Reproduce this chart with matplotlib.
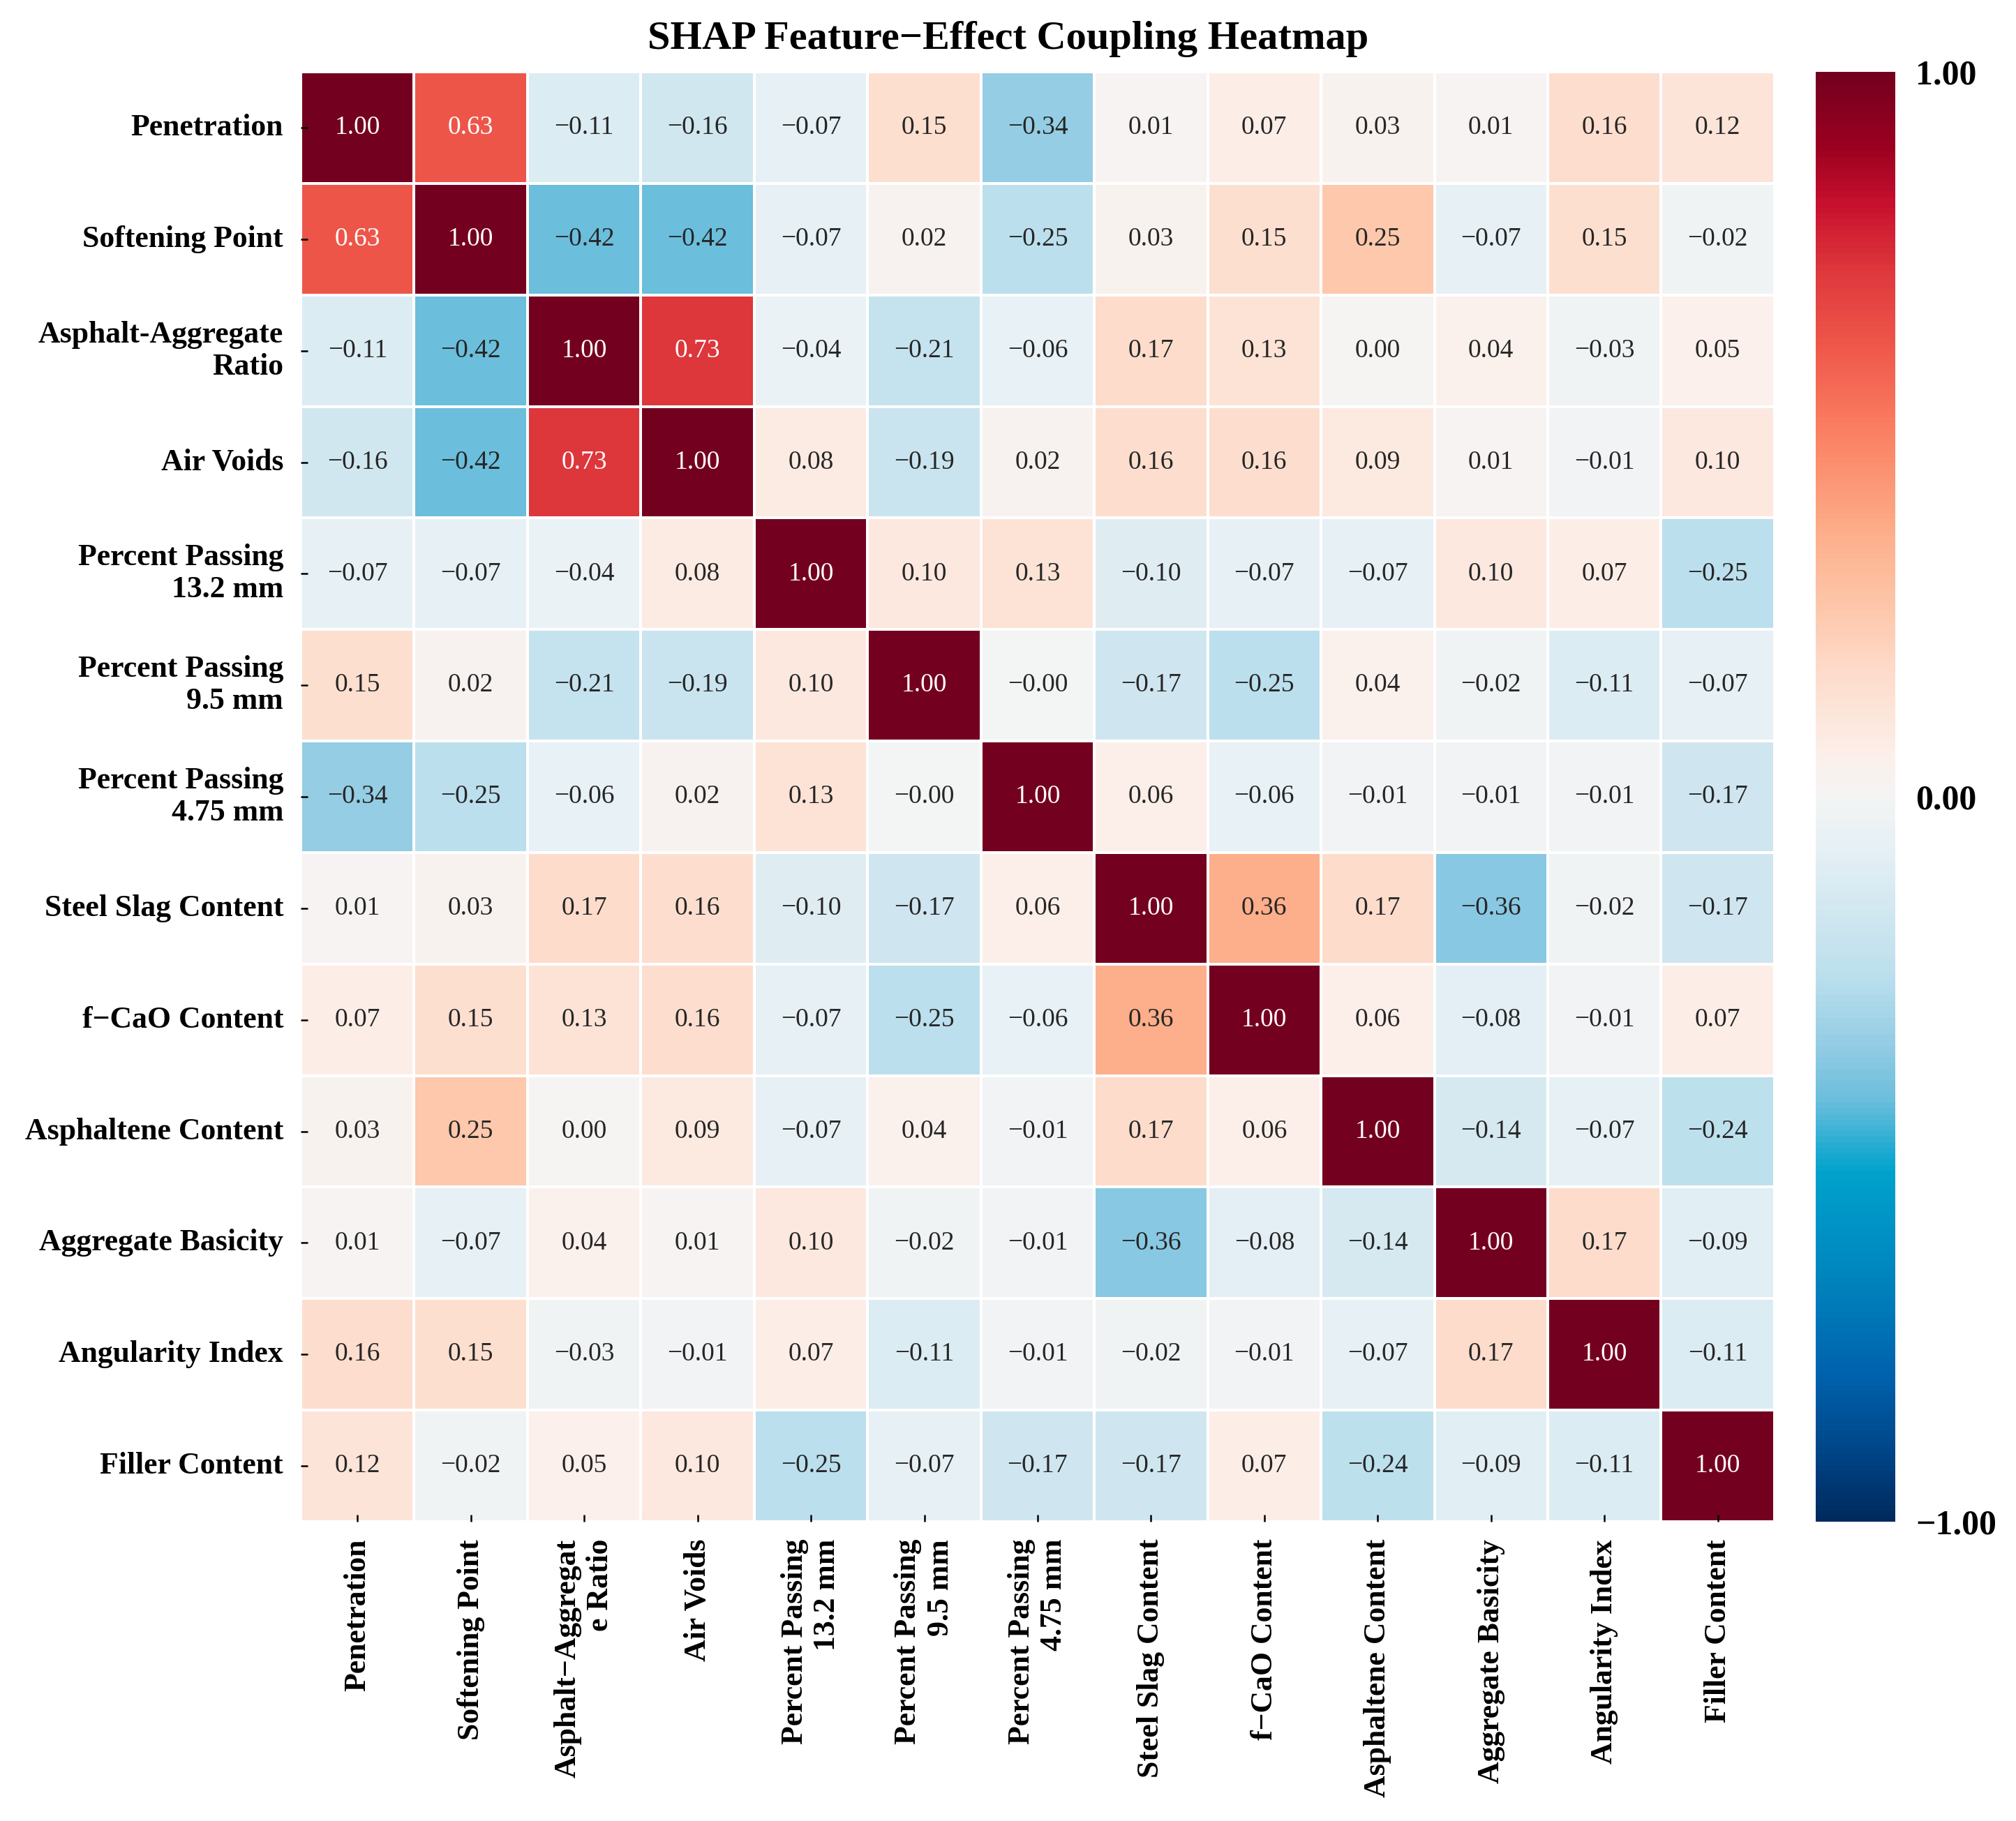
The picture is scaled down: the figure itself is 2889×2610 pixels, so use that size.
import numpy as np
import seaborn as sns
import matplotlib.pyplot as plt
from matplotlib.colors import LinearSegmentedColormap

plt.rcParams['font.family'] = ['Liberation Serif', 'DejaVu Serif']
plt.rcParams['axes.unicode_minus'] = True

# feature names (y axis and x axis wrap differently in the original)
y_labels = ['Penetration', 'Softening Point', 'Asphalt-Aggregate\nRatio', 'Air Voids',
            'Percent Passing\n13.2 mm', 'Percent Passing\n9.5 mm', 'Percent Passing\n4.75 mm',
            'Steel Slag Content', 'f\u2212CaO Content', 'Asphaltene Content',
            'Aggregate Basicity', 'Angularity Index', 'Filler Content']
x_labels = ['Penetration', 'Softening Point', 'Asphalt\u2212Aggregat\ne Ratio', 'Air Voids',
            'Percent Passing\n13.2 mm', 'Percent Passing\n9.5 mm', 'Percent Passing\n4.75 mm',
            'Steel Slag Content', 'f\u2212CaO Content', 'Asphaltene Content',
            'Aggregate Basicity', 'Angularity Index', 'Filler Content']

row_penetration = [1.00, 0.63, -0.11, -0.16, -0.07, 0.15, -0.34, 0.01, 0.07, 0.03, 0.01, 0.16, 0.12]
row_softening = [0.63, 1.00, -0.42, -0.42, -0.07, 0.02, -0.25, 0.03, 0.15, 0.25, -0.07, 0.15, -0.02]
row_aa_ratio = [-0.11, -0.42, 1.00, 0.73, -0.04, -0.21, -0.06, 0.17, 0.13, 0.00, 0.04, -0.03, 0.05]
row_air_voids = [-0.16, -0.42, 0.73, 1.00, 0.08, -0.19, 0.02, 0.16, 0.16, 0.09, 0.01, -0.01, 0.10]
row_pp132 = [-0.07, -0.07, -0.04, 0.08, 1.00, 0.10, 0.13, -0.10, -0.07, -0.07, 0.10, 0.07, -0.25]
row_pp95 = [0.15, 0.02, -0.21, -0.19, 0.10, 1.00, -0.001, -0.17, -0.25, 0.04, -0.02, -0.11, -0.07]
row_pp475 = [-0.34, -0.25, -0.06, 0.02, 0.13, -0.001, 1.00, 0.06, -0.06, -0.01, -0.01, -0.01, -0.17]
row_steel_slag = [0.01, 0.03, 0.17, 0.16, -0.10, -0.17, 0.06, 1.00, 0.36, 0.17, -0.36, -0.02, -0.17]
row_fcao = [0.07, 0.15, 0.13, 0.16, -0.07, -0.25, -0.06, 0.36, 1.00, 0.06, -0.08, -0.01, 0.07]
row_asphaltene = [0.03, 0.25, 0.00, 0.09, -0.07, 0.04, -0.01, 0.17, 0.06, 1.00, -0.14, -0.07, -0.24]
row_basicity = [0.01, -0.07, 0.04, 0.01, 0.10, -0.02, -0.01, -0.36, -0.08, -0.14, 1.00, 0.17, -0.09]
row_angularity = [0.16, 0.15, -0.03, -0.01, 0.07, -0.11, -0.01, -0.02, -0.01, -0.07, 0.17, 1.00, -0.11]
row_filler = [0.12, -0.02, 0.05, 0.10, -0.25, -0.07, -0.17, -0.17, 0.07, -0.24, -0.09, -0.11, 1.00]

data = np.array([row_penetration, row_softening, row_aa_ratio, row_air_voids, row_pp132,
                 row_pp95, row_pp475, row_steel_slag, row_fcao, row_asphaltene,
                 row_basicity, row_angularity, row_filler])

annot = np.vectorize(lambda v: '{:.2f}'.format(v).replace('-', '\u2212'))(data)

# diverging map sampled from the reference colour bar
cmap_nodes = [(-1.00, '#002a5e'), (-0.90, '#00478a'), (-0.80, '#0062ad'), (-0.65, '#0088c0'),
              (-0.52, '#00a2cc'), (-0.42, '#6bbedc'), (-0.34, '#95cde4'), (-0.25, '#badfed'),
              (-0.17, '#cfe6f0'), (-0.06, '#e8f1f5'), (0.00, '#f4f4f4'), (0.06, '#fcefe9'),
              (0.17, '#fddccb'), (0.25, '#fdc9ae'), (0.36, '#fdb08c'), (0.40, '#fca27f'),
              (0.52, '#fa7b5f'), (0.63, '#ee5549'), (0.73, '#de373c'), (0.82, '#c8102e'),
              (0.90, '#9b0020'), (1.00, '#74001f')]
cmap = LinearSegmentedColormap.from_list('shap_rdbu', [((v + 1) / 2, c) for v, c in cmap_nodes])

fig = plt.figure(figsize=(9.63, 8.7), dpi=300)
ax = fig.add_axes([0.1492, 0.1644, 0.7310, 0.7961])
cax = fig.add_axes([0.9007, 0.1644, 0.0395, 0.7961])

sns.heatmap(data, ax=ax, cbar_ax=cax, cmap=cmap, vmin=-1, vmax=1,
            annot=annot, fmt='', annot_kws={'fontsize': 9},
            linewidths=0.5, linecolor='white',
            xticklabels=x_labels, yticklabels=y_labels,
            cbar_kws={'ticks': [-1, 0, 1]})

ax.set_xticklabels(x_labels, rotation=90, fontsize=10.5, fontweight='bold', ma='right')
ax.set_yticklabels(y_labels, rotation=0, fontsize=10.5, fontweight='bold', ma='right')
ax.tick_params(axis='both', direction='in', length=2.5, width=0.6, pad=6)

cax.set_yticklabels(['\u22121.00', '0.00', '1.00'], fontsize=12, fontweight='bold')
cax.tick_params(length=0, pad=7)
cbar = ax.collections[0].colorbar
cbar.outline.set_visible(False)

fig.text(0.5, 0.9785, 'SHAP Feature\u2212Effect Coupling Heatmap', ha='center', va='center',
         fontsize=14, fontweight='bold')

plt.savefig('out.png', dpi=300)
plt.close(fig)
